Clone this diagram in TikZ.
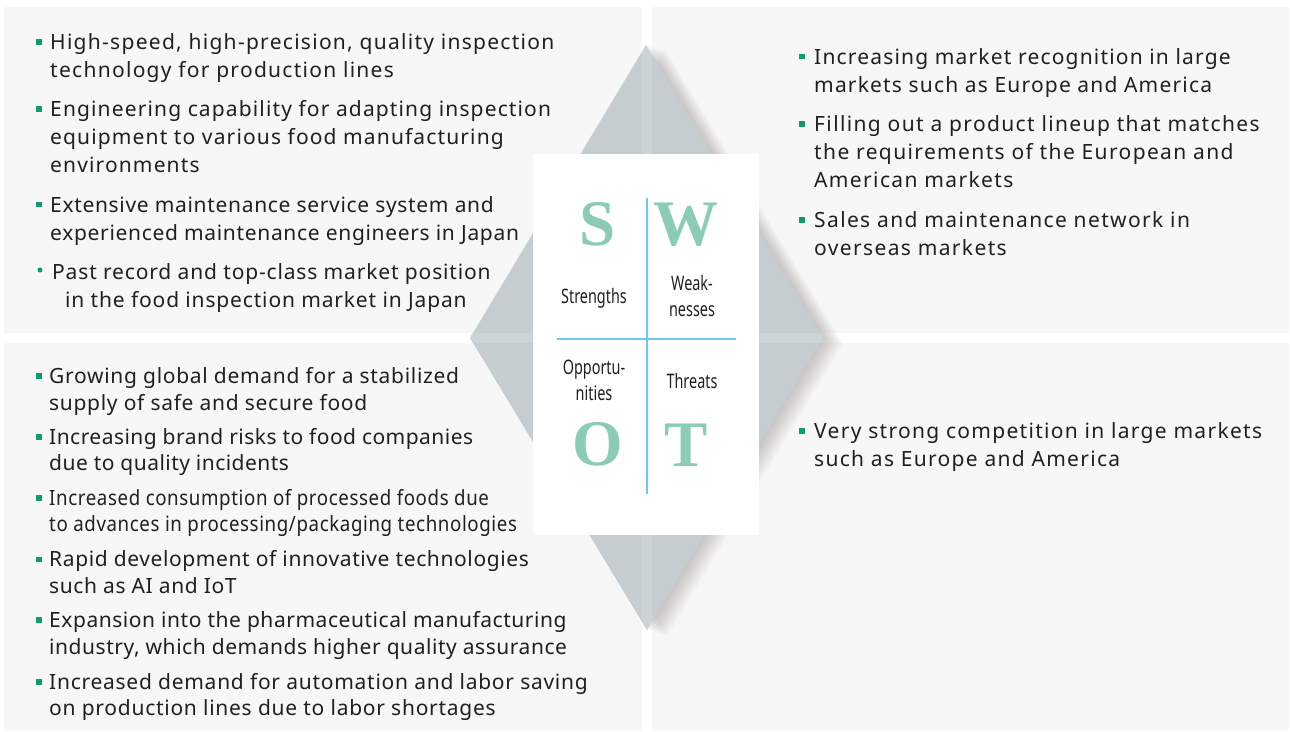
\documentclass[tikz,border=0pt]{standalone}
\usepackage{fontspec}
\setmainfont{Noto Sans}
\newfontfamily\narrowfont[FakeStretch=0.89, LetterSpace=2.9]{Noto Sans}
\newfontfamily\labelfont[FakeStretch=0.72]{Noto Sans}
\newfontfamily\letterfont{Liberation Serif}

\definecolor{panelgray}{HTML}{F7F7F7}
\definecolor{diamondgray}{HTML}{C6CDD1}
\definecolor{gapgray}{HTML}{CDD4D8}
\definecolor{shadowgray}{HTML}{7A6E6E}
\definecolor{bulletgreen}{HTML}{0E9A73}
\definecolor{lettergreen}{HTML}{8CCBB4}
\definecolor{gridblue}{HTML}{6EC6EA}
\definecolor{textdark}{HTML}{231F20}

% one cell per line, baseline at the first line
\newcommand{\leftlines}[1]{\begin{tabular}[t]{@{}l@{}}#1\end{tabular}}
\newcommand{\midlines}[1]{\begin{tabular}[t]{@{}c@{}}#1\end{tabular}}

\begin{document}
\begin{tikzpicture}[x=1pt, y=-1pt,
    panel/.style={fill=panelgray},
    bullet/.style={fill=bulletgreen, inner sep=0pt, minimum size=5.5pt},
    dot/.style={circle, fill=bulletgreen, inner sep=0pt, minimum size=5pt},
    entry/.style={anchor=base west, inner sep=0pt, text=textdark,
      font=\fontsize{21}{28}\selectfont\addfontfeature{LetterSpace=#1}},
    entry/.default=5.6,
    tightentry/.style={entry,
      font=\fontsize{21}{26.7}\selectfont\addfontfeature{LetterSpace=#1}},
    tightentry/.default=2.9,
    letter/.style={anchor=base, inner sep=0pt, text=lettergreen,
      font=\letterfont\bfseries\fontsize{65}{65}\selectfont},
    caption/.style={anchor=base, inner sep=0pt, text=textdark,
      font=\labelfont\fontsize{20}{26.5}\selectfont},
  ]
  \useasboundingbox (0,0) rectangle (1290,731);
  \fill[white] (0,0) rectangle (1290,731);

  % Panels
  \fill[panel] (4,7) rectangle (642,333);
  \fill[panel] (652,7) rectangle (1289,333);
  \fill[panel] (4,343) rectangle (642,730);
  \fill[panel] (652,343) rectangle (1289,730);

  % Diamond
  \coordinate (dtop) at (646,45);
  \coordinate (dright) at (823,338);
  \coordinate (dbottom) at (647,630);
  \coordinate (dleft) at (470,338);

  \foreach \s in {2,4,...,20}
    \fill[shadowgray, opacity=0.04]
      ([shift={(\s,0.3*\s)}]dtop) -- ([shift={(\s,0.3*\s)}]dright)
      -- ([shift={(\s,0.3*\s)}]dbottom) -- ([shift={(\s,0.3*\s)}]dleft) -- cycle;

  \fill[diamondgray] (dtop) -- (dright) -- (dbottom) -- (dleft) -- cycle;
  \begin{scope}
    \clip (dtop) -- (dright) -- (dbottom) -- (dleft) -- cycle;
    \fill[gapgray] (642,0) rectangle (652,731);
    \fill[gapgray] (0,333) rectangle (1290,343);
  \end{scope}

  % SWOT box
  \fill[white] (533,154) rectangle (759,535);
  \coordinate (vtop) at (647,198);
  \coordinate (vbottom) at (647,494);
  \coordinate (hleft) at (557,339);
  \coordinate (hright) at (736,339);
  \draw[gridblue, line width=1.5pt] (vtop) -- (vbottom);
  \draw[gridblue, line width=1.5pt] (hleft) -- (hright);

  \node[letter] (S) at (598,245) {S};
  \node[letter] (W) at (686,245) {W};
  \node[letter] (O) at (598,465) {O};
  \node[letter] (T) at (686,466) {T};

  \node[caption] (strengths) at (594,303) {Strengths};
  \node[caption] (weaknesses) at (692,290) {\midlines{Weak-\\nesses}};
  \node[caption] (opportunities) at (594,374) {\midlines{Opportu-\\nities}};
  \node[caption] (threats) at (692,388) {Threats};

  % Strengths
  \node[bullet] (b1) at (39,42) {};
  \node[entry=6.1] (s1) at (50,49.5) {\leftlines{High-speed, high-precision, quality inspection\\
    technology for production lines}};
  \node[bullet] (b2) at (39,109) {};
  \node[entry=5.4] (s2) at (50,116.5) {\leftlines{Engineering capability for adapting inspection\\
    equipment to various food manufacturing\\environments}};
  \node[bullet] (b3) at (39,204.5) {};
  \node[entry=3.2] (s3) at (50,212) {\leftlines{Extensive maintenance service system and\\
    experienced maintenance engineers in Japan}};
  \node[dot] (b4) at (40,270) {};
  \node[entry=4.0] (s4) at (52,279) {\leftlines{Past record and top-class market position\\
    \hspace*{13pt}in the food inspection market in Japan}};

  % Weaknesses
  \node[bullet] (b5) at (802,56.5) {};
  \node[entry] (w1) at (814,64) {\leftlines{Increasing market recognition in large\\
    markets such as Europe and America}};
  \node[bullet] (b6) at (802,124) {};
  \node[entry=6.5] (w2) at (814,131.5) {\leftlines{Filling out a product lineup that matches\\
    the requirements of the European and\\American markets}};
  \node[bullet] (b7) at (802,220) {};
  \node[entry=6.5] (w3) at (814,227.5) {\leftlines{Sales and maintenance network in\\
    overseas markets}};

  % Opportunities
  \node[bullet] (b8) at (39,376) {};
  \node[tightentry=3.3] (o1) at (49,383.3) {\leftlines{Growing global demand for a stabilized\\
    supply of safe and secure food}};
  \node[bullet] (b9) at (39,437) {};
  \node[tightentry=2.2] (o2) at (49,444) {\leftlines{Increasing brand risks to food companies\\
    due to quality incidents}};
  \node[bullet] (b10) at (39,498) {};
  \node[tightentry] (o3) at (49,505) {\narrowfont\leftlines{Increased consumption of processed foods due\\
    to advances in processing/packaging technologies}};
  \node[bullet] (b11) at (39,559.5) {};
  \node[tightentry] (o4) at (49,566.7) {\leftlines{Rapid development of innovative technologies\\
    such as AI and IoT}};
  \node[bullet] (b12) at (39,620) {};
  \node[tightentry=2.6] (o5) at (49,627.3) {\leftlines{Expansion into the pharmaceutical manufacturing\\
    industry, which demands higher quality assurance}};
  \node[bullet] (b13) at (39,682) {};
  \node[tightentry=3.5] (o6) at (49,689) {\leftlines{Increased demand for automation and labor saving\\
    on production lines due to labor shortages}};

  % Threats
  \node[bullet] (b14) at (802,431) {};
  \node[entry=6.2] (t1) at (814,438.3) {\leftlines{Very strong competition in large markets\\
    such as Europe and America}};
\end{tikzpicture}
\end{document}
